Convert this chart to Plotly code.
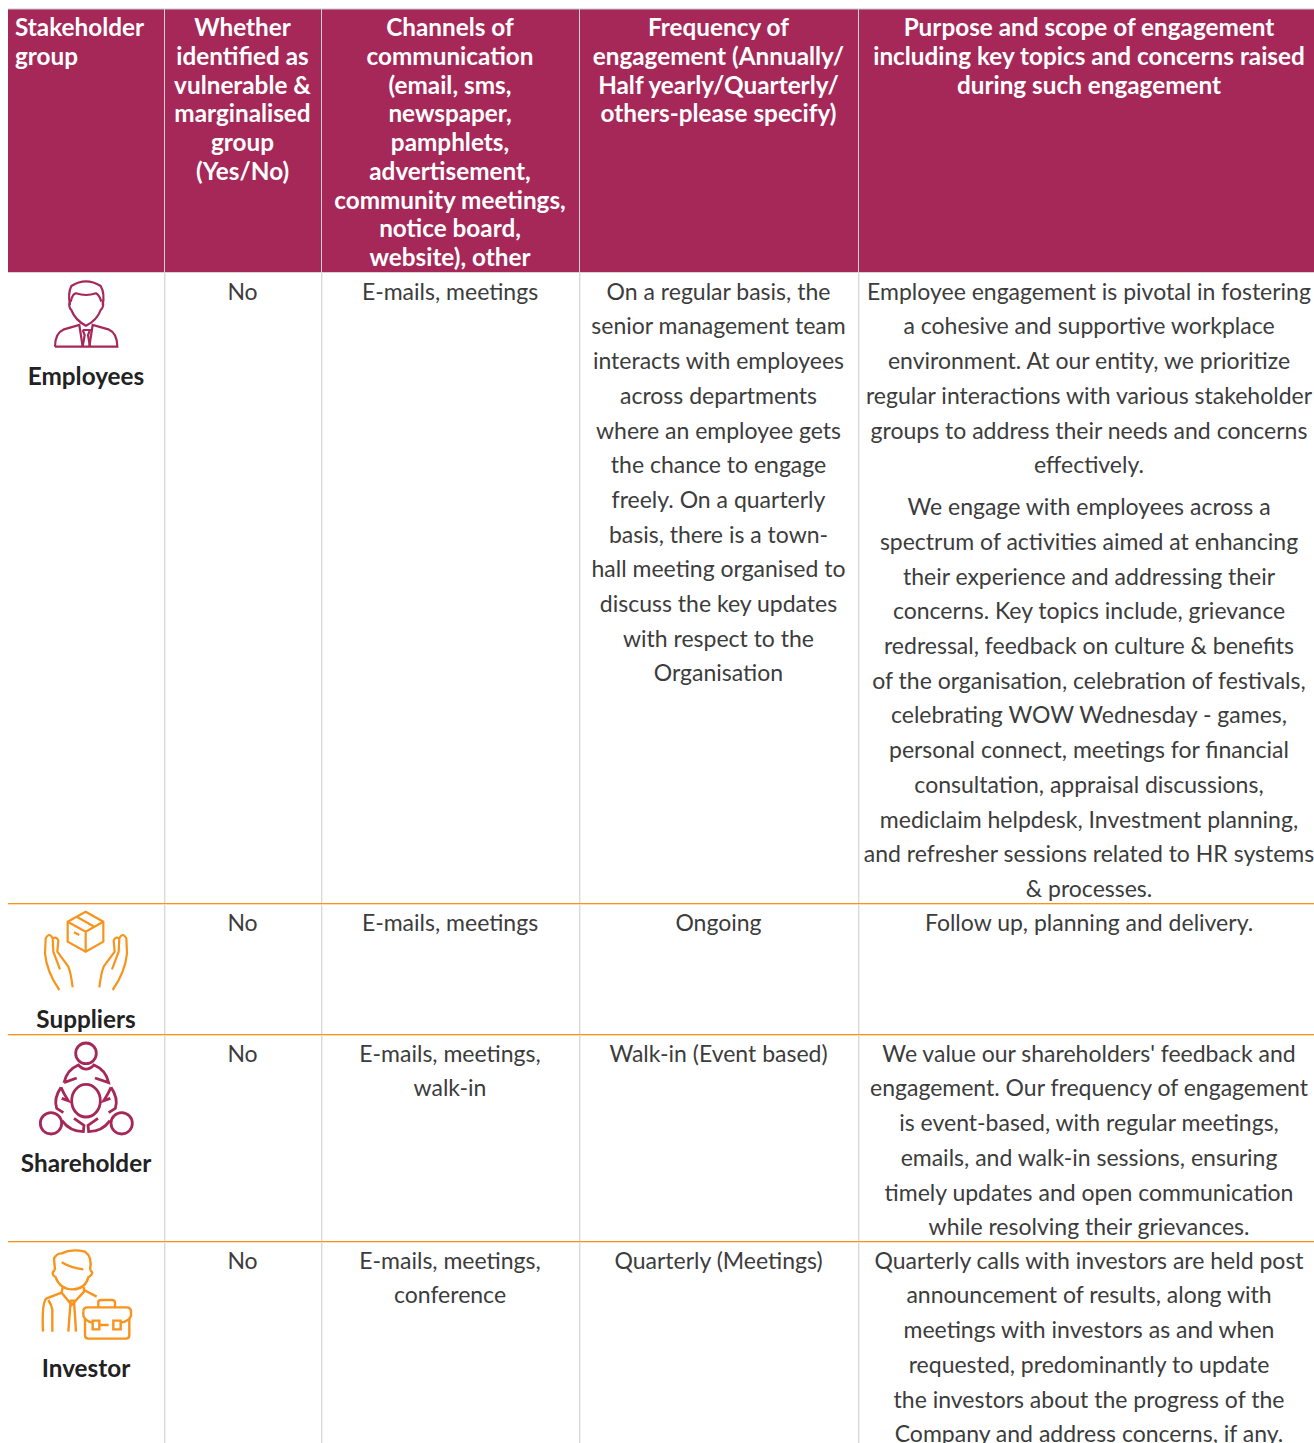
import re
import plotly.graph_objects as go

# ---- content ----
col_edges = [8, 164, 321, 579, 858, 1320]
row_edges = [9, 272, 903, 1034, 1241, 1470]

header_first = ["Stakeholder", "group"]
header_cols = [
    ["Whether", "identified as", "vulnerable &", "marginalised", "group", "(Yes/No)"],
    ["Channels of", "communication", "(email, sms,", "newspaper,", "pamphlets,", "advertisement,",
     "community meetings,", "notice board,", "website), other"],
    ["Frequency of", "engagement (Annually/", "Half yearly/Quarterly/", "others-please specify)"],
    ["Purpose and scope of engagement", "including key topics and concerns raised", "during such engagement"],
]
stakeholders = ["Employees", "Suppliers", "Shareholder", "Investor"]
vulnerable = ["No", "No", "No", "No"]
channels = [
    ["E-mails, meetings"],
    ["E-mails, meetings"],
    ["E-mails, meetings,", "walk-in"],
    ["E-mails, meetings,", "conference"],
]
frequency = [
    ["On a regular basis, the", "senior management team", "interacts with employees", "across departments",
     "where an employee gets", "the chance to engage", "freely. On a quarterly", "basis, there is a town-",
     "hall meeting organised to", "discuss the key updates", "with respect to the", "Organisation"],
    ["Ongoing"],
    ["Walk-in (Event based)"],
    ["Quarterly (Meetings)"],
]
purpose_p1 = ["Employee engagement is pivotal in fostering", "a cohesive and supportive workplace",
              "environment. At our entity, we prioritize", "regular interactions with various stakeholder",
              "groups to address their needs and concerns", "effectively."]
purpose_p2 = ["We engage with employees across a", "spectrum of activities aimed at enhancing",
              "their experience and addressing their", "concerns. Key topics include, grievance",
              "redressal, feedback on culture & benefits", "of the organisation, celebration of festivals,",
              "celebrating WOW Wednesday - games,", "personal connect, meetings for financial",
              "consultation, appraisal discussions,", "mediclaim helpdesk, Investment planning,",
              "and refresher sessions related to HR systems", "& processes."]
purpose_rest = [
    ["Follow up, planning and delivery."],
    ["We value our shareholders' feedback and", "engagement. Our frequency of engagement",
     "is event-based, with regular meetings,", "emails, and walk-in sessions, ensuring",
     "timely updates and open communication", "while resolving their grievances."],
    ["Quarterly calls with investors are held post", "announcement of results, along with",
     "meetings with investors as and when", "requested, predominantly to update",
     "the investors about the progress of the", "Company and address concerns, if any."],
]

MAROON = "#a62858"
ORANGE = "#f7941d"
ORANGE_SOFT = "#fddcb4"
GREY = "#d9d9d9"
GREY_SOFT = "#f0f0f0"
TEXT = "#3c3c3c"
FONT = "Lato"

LH = 34.7
HLH = 28.75
centers = [(col_edges[i] + col_edges[i + 1]) / 2 for i in range(5)]

bx, by, bt = [], [], []


def put(lines, cx, y0):
    for i, t in enumerate(lines):
        bx.append(cx)
        by.append(y0 + i * LH)
        bt.append(t)


for r in range(4):
    top = row_edges[r + 1] + 22
    put([vulnerable[r]], centers[1], top)
    put(channels[r], centers[2], top)
    put(frequency[r], centers[3], top)
    if r == 0:
        put(purpose_p1, centers[4], top)
        put(purpose_p2, centers[4], top + 215.5)
    else:
        put(purpose_rest[r - 1], centers[4], top)

hx, hy, ht = [], [], []
for c, lines in enumerate(header_cols):
    for i, t in enumerate(lines):
        hx.append(centers[c + 1])
        hy.append(row_edges[0] + 21 + i * HLH)
        ht.append(t)

fig = go.Figure()
shapes = []
# header band
shapes.append(dict(type="rect", x0=col_edges[0], x1=1330, y0=row_edges[0], y1=row_edges[1],
                   fillcolor=MAROON, line=dict(width=0), layer="below"))
# top rule
shapes.append(dict(type="line", x0=col_edges[0], x1=1330, y0=9, y1=9, line=dict(color="#c8c8c8", width=1)))
shapes.append(dict(type="line", x0=col_edges[0], x1=1330, y0=272.5, y1=272.5, line=dict(color="#d4d4d4", width=1)))
# verticals
for x in col_edges[1:5]:
    shapes.append(dict(type="line", x0=x + .5, x1=x + .5, y0=9, y1=272, line=dict(color="#cfcfcf", width=1)))
    shapes.append(dict(type="rect", x0=x, x1=x + 1, y0=272, y1=1460, fillcolor=GREY, line=dict(width=0)))
    shapes.append(dict(type="rect", x0=x + 1, x1=x + 2, y0=273, y1=1460, fillcolor=GREY_SOFT, line=dict(width=0)))
# orange row rules with the soft lower edge seen in the reference
for y in row_edges[2:5]:
    shapes.append(dict(type="rect", x0=col_edges[0], x1=1330, y0=y, y1=y + 1,
                       fillcolor=ORANGE, line=dict(width=0)))
    shapes.append(dict(type="rect", x0=col_edges[0], x1=1330, y0=y + 1, y1=y + 2,
                       fillcolor=ORANGE_SOFT, line=dict(width=0)))


def icon(ox, oy, d, color, w=2.4):
    """Icon outline; numbers are measured at 3x so they are scaled down here."""
    nums = iter(range(10 ** 6))

    def sub(m):
        i = next(nums)
        v = float(m.group(0)) / 3 + (ox if i % 2 == 0 else oy)
        return f"{v:.2f}"
    path = re.sub(r"-?\d+\.?\d*", sub, d)
    shapes.append(dict(type="path", path=path, line=dict(color=color, width=w), fillcolor="rgba(0,0,0,0)"))


def mirror(d, axis):
    nums = iter(range(10 ** 6))

    def sub(m):
        i = next(nums)
        return str(2 * axis - float(m.group(0))) if i % 2 == 0 else m.group(0)
    return re.sub(r"-?\d+\.?\d*", sub, d)


def ellipse(cx, cy, rx, ry):
    k = .5523
    return (f"M {cx-rx} {cy} C {cx-rx} {cy-k*ry} {cx-k*rx} {cy-ry} {cx} {cy-ry} "
            f"C {cx+k*rx} {cy-ry} {cx+rx} {cy-k*ry} {cx+rx} {cy} "
            f"C {cx+rx} {cy+k*ry} {cx+k*rx} {cy+ry} {cx} {cy+ry} "
            f"C {cx-k*rx} {cy+ry} {cx-rx} {cy+k*ry} {cx-rx} {cy} Z")


# Employees
for d in [
    "M 210 915 Q 203 880 214 858 Q 258 830 302 858 Q 315 880 308 915",
    "M 210 905 Q 204 920 214 930 Q 225 960 258 977 Q 292 960 302 930 Q 313 920 308 905",
    "M 212 905 Q 218 880 228 880 Q 258 890 288 880 Q 298 885 304 905",
    "M 165 1040 L 352 1040 Q 352 1000 325 988 L 278 975 L 268 1040",
    "M 165 1040 Q 165 1000 192 988 L 238 975 L 248 1040",
    "M 248 990 L 270 990 L 264 1005 L 270 1040 M 248 990 L 254 1005 L 248 1040",
]:
    icon(0, 0, d, MAROON, 2.2)

# Suppliers
for d in [
    "M 257 65 L 310 95 L 310 155 L 257 185 L 203 155 L 203 95 Z",
    "M 203 95 L 257 125 L 310 95 M 257 125 L 257 185 M 230 80 L 283 110 M 222 127 L 238 135",
]:
    icon(0, 890, d, ORANGE, 2.2)
hand = ("M 178 300 Q 140 245 135 190 L 137 145 Q 148 125 158 145 L 160 185 L 180 238 "
        "M 158 145 Q 170 138 175 152 L 172 185 L 205 230 Q 212 245 218 292")
icon(0, 890, hand, ORANGE, 2.2)
icon(0, 890, mirror(hand, 258), ORANGE, 2.2)

# Shareholder
for d in [ellipse(258, 490, 31, 31), ellipse(153, 700, 32, 32), ellipse(365, 700, 32, 32), ellipse(258, 632, 43, 49)]:
    icon(0, 890, d, MAROON, 2.8)
share = ["M 192 578 Q 200 540 235 525 Q 258 550 282 525 Q 318 540 326 578 L 285 564 M 192 578 L 230 564",
         "M 183 592 Q 160 625 170 655 L 190 668 M 183 592 Q 190 610 205 632 L 185 625"]
for d in share:
    icon(0, 890, d, MAROON, 2.8)
low = "M 186 692 Q 210 725 250 725 L 252 706 L 222 685"
icon(0, 890, low, MAROON, 2.8)
icon(0, 890, mirror(low, 258), MAROON, 2.8)
icon(0, 890, mirror(share[1], 258), MAROON, 2.8)

# Investor
for d in [
    "M 165 120 L 162 85 Q 170 70 185 70 Q 215 55 255 65 Q 278 80 270 120",
    "M 165 120 Q 150 130 167 142 Q 180 178 218 178 Q 255 178 265 142 Q 285 130 270 120",
    "M 185 97 Q 215 115 250 118",
    "M 188 172 L 185 188 L 140 205 Q 125 215 129 305 M 157 305 L 157 240 Q 155 225 145 210",
    "M 185 188 L 215 225 L 252 185 L 252 172 M 252 180 L 290 200",
    "M 205 305 L 212 212 L 222 212 L 228 305",
    "M 250 245 Q 250 232 262 232 L 380 232 Q 393 232 393 245 L 393 258 Q 385 275 362 278",
    "M 278 278 Q 258 275 250 258 L 250 245",
    "M 255 265 L 255 315 Q 255 326 265 326 L 378 326 Q 388 326 388 315 L 388 265",
    "M 295 232 L 295 215 Q 295 210 305 210 L 335 210 Q 345 210 345 218 L 345 232",
    "M 278 272 L 298 272 L 298 298 L 278 298 Z M 340 272 L 362 272 L 362 298 L 340 298 Z M 298 285 L 326 285",
]:
    icon(0, 1230, d, ORANGE, 2.4)

fig.add_trace(go.Scatter(x=bx, y=by, text=bt, mode="text", textposition="middle center", hoverinfo="skip",
                         textfont=dict(family=FONT, size=23, color=TEXT)))
fig.add_trace(go.Scatter(x=hx, y=hy, text=ht, mode="text", textposition="middle center", hoverinfo="skip",
                         textfont=dict(family=FONT, size=24.3, color="#ffffff", weight=700)))
fig.add_trace(go.Scatter(x=[15, 15], y=[row_edges[0] + 21, row_edges[0] + 21 + HLH], text=header_first, mode="text",
                         textposition="middle right", hoverinfo="skip",
                         textfont=dict(family=FONT, size=24.3, color="#ffffff", weight=700)))
fig.add_trace(go.Scatter(x=[centers[0]] * 4, y=[379, 1022, 1166, 1371], text=stakeholders, mode="text",
                         textposition="middle center", hoverinfo="skip",
                         textfont=dict(family=FONT, size=24.3, color="#222222", weight=700)))

fig.update_layout(width=1314, height=1443, margin=dict(l=0, r=0, t=0, b=0), autosize=False,
                  paper_bgcolor="white", plot_bgcolor="white", showlegend=False, shapes=shapes,
                  xaxis=dict(range=[0, 1314], visible=False, fixedrange=True),
                  yaxis=dict(range=[1443, 0], visible=False, fixedrange=True))
fig.write_html("out.html", config={"displayModeBar": False},
               post_script="document.body.style.margin='0';")
